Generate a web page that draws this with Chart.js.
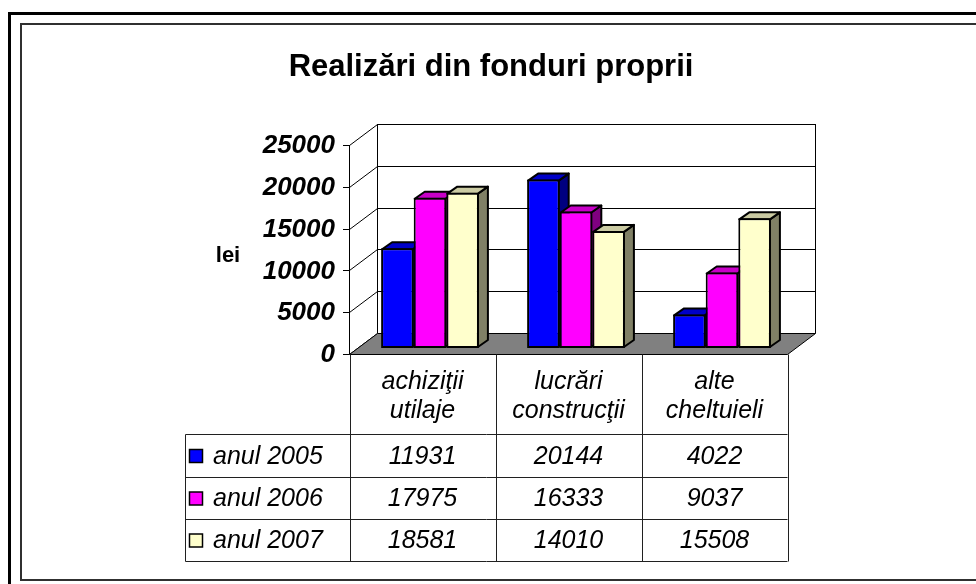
<!DOCTYPE html>
<html>
<head>
<meta charset="utf-8">
<script src="https://cdn.jsdelivr.net/npm/chart.js@4/dist/chart.umd.min.js"></script>
<style>
  html, body { margin: 0; padding: 0; background: #fff; }
  canvas { display: block; }
</style>
</head>
<body>
<canvas id="chart" width="976" height="584"></canvas>
<script>
const chartTitle = 'Realizări din fonduri proprii';
const axisTitle = 'lei';
const categories = [['achiziţii', 'utilaje'], ['lucrări', 'construcţii'], ['alte', 'cheltuieli']];
const seriesNames = ['anul 2005', 'anul 2006', 'anul 2007'];
const values2005 = [11931, 20144, 4022];
const values2006 = [17975, 16333, 9037];
const values2007 = [18581, 14010, 15508];
const yTicks = [0, 5000, 10000, 15000, 20000, 25000];

const frontColors = ['#0000ff', '#ff00ff', '#ffffcc'];
const topColors = ['#0000c8', '#c800c8', '#cbcba3'];
const sideColors = ['#000080', '#800080', '#808066'];

// offsets of the front edge / back wall relative to the plane of the bar faces
const FRONT = { dx: -8, dy: 6 };
const BACK = { dx: 20, dy: -15 };
const DEPTH = { dx: 10, dy: -7 };

const FONT = '"Liberation Sans", Arial, sans-serif';

function poly(ctx, pts, fill) {
    ctx.beginPath();
    ctx.moveTo(pts[0][0], pts[0][1]);
    for (let i = 1; i < pts.length; i++) ctx.lineTo(pts[i][0], pts[i][1]);
    ctx.closePath();
    if (fill) {
        ctx.fillStyle = fill;
        ctx.fill();
    }
    ctx.stroke();
}

function line(ctx, x1, y1, x2, y2) {
    ctx.beginPath();
    ctx.moveTo(x1, y1);
    ctx.lineTo(x2, y2);
    ctx.stroke();
}

const fake3d = {
    id: 'fake3d',
    beforeDraw(chart) {
        const ctx = chart.ctx;
        ctx.save();
        // frames
        ctx.strokeStyle = '#000';
        ctx.lineWidth = 3;
        ctx.strokeRect(9.5, 13.5, 1000, 600);
        ctx.strokeStyle = '#303030';
        ctx.lineWidth = 2;
        ctx.strokeRect(21, 24, 1000, 556);

        ctx.fillStyle = '#000';
        ctx.textAlign = 'center';
        ctx.textBaseline = 'middle';
        ctx.font = 'bold 31px ' + FONT;
        ctx.fillText(chartTitle, 491, 67);
        ctx.font = 'bold 22px ' + FONT;
        ctx.fillText(axisTitle, 228, 256);
        ctx.restore();
    },
    beforeDatasetsDraw(chart) {
        const ctx = chart.ctx;
        const { left, right, top, bottom } = chart.chartArea;
        const yScale = chart.scales.y;
        ctx.save();
        ctx.strokeStyle = '#000';
        ctx.lineWidth = 1;

        // back wall + grid
        const bl = left + BACK.dx + 0.5, br = right + BACK.dx + 0.5;
        ctx.fillStyle = '#fff';
        ctx.fillRect(bl, top + BACK.dy, br - bl, bottom - top);
        yTicks.forEach(v => {
            const py = Math.round(yScale.getPixelForValue(v)) + 0.5;
            line(ctx, bl, py + BACK.dy, br, py + BACK.dy);
            // side wall diagonals
            line(ctx, left + FRONT.dx + 0.5, py + FRONT.dy, bl, py + BACK.dy);
            // tick marks
            line(ctx, left + FRONT.dx - 6, py + FRONT.dy, left + FRONT.dx + 0.5, py + FRONT.dy);
        });
        line(ctx, bl, top + BACK.dy, bl, bottom + BACK.dy);
        line(ctx, br, top + BACK.dy, br, bottom + BACK.dy);
        line(ctx, left + FRONT.dx + 0.5, top + FRONT.dy, left + FRONT.dx + 0.5, bottom + FRONT.dy);

        // floor
        const b = Math.round(yScale.getPixelForValue(0)) + 0.5;
        poly(ctx, [
            [left + FRONT.dx + 0.5, b + FRONT.dy],
            [right + FRONT.dx + 0.5, b + FRONT.dy],
            [br, b + BACK.dy],
            [bl, b + BACK.dy]
        ], '#808080');

        // y tick labels
        ctx.fillStyle = '#000';
        ctx.font = 'italic bold 26px ' + FONT;
        ctx.textAlign = 'right';
        ctx.textBaseline = 'middle';
        yTicks.forEach(v => {
            ctx.fillText(String(v), left + FRONT.dx - 14, yScale.getPixelForValue(v) + FRONT.dy + 1);
        });

        // bars: side, top, then the front face drawn by the bar element
        ctx.lineWidth = 2;
        ctx.lineJoin = 'round';
        chart.data.datasets.forEach((ds, i) => {
            const meta = chart.getDatasetMeta(i);
            meta.data.forEach(bar => {
                const p = bar.getProps(['x', 'y', 'base', 'width'], true);
                const l = p.x - p.width / 2, r = p.x + p.width / 2 - 1;
                poly(ctx, [
                    [r, p.y + 1], [r + DEPTH.dx, p.y + 1 + DEPTH.dy],
                    [r + DEPTH.dx, p.base - 1 + DEPTH.dy], [r, p.base - 1]
                ], sideColors[i]);
                poly(ctx, [
                    [l + 1, p.y + 1], [l + 1 + DEPTH.dx, p.y + 1 + DEPTH.dy],
                    [r + DEPTH.dx, p.y + 1 + DEPTH.dy], [r, p.y + 1]
                ], topColors[i]);
                bar.draw(ctx, chart.chartArea);
            });
        });
        ctx.restore();
        return false;
    },
    afterDraw(chart) {
        const ctx = chart.ctx;
        const xScale = chart.scales.x;
        const catW = (xScale.right - xScale.left) / categories.length;
        const x0 = xScale.left + FRONT.dx + 0.5;
        const rows = [434.5, 477.5, 519.5, 561.5];
        const tableLeft = 185.5;
        const headTop = chart.chartArea.bottom + FRONT.dy + 0.5;

        ctx.save();
        ctx.strokeStyle = '#202020';
        ctx.lineWidth = 1;
        rows.forEach(ry => line(ctx, tableLeft, ry, x0 + catW * categories.length, ry));
        line(ctx, tableLeft, rows[0], tableLeft, rows[rows.length - 1]);
        for (let c = 0; c <= categories.length; c++) {
            const cx = Math.round(x0 + c * catW) + 0.5;
            line(ctx, cx, headTop, cx, rows[rows.length - 1]);
        }

        ctx.fillStyle = '#000';
        ctx.textAlign = 'center';
        ctx.textBaseline = 'middle';
        ctx.font = 'italic 25px ' + FONT;
        categories.forEach((lines, c) => {
            const cx = x0 + (c + 0.5) * catW;
            lines.forEach((t, k) => ctx.fillText(t, cx, 382 + k * 29));
        });

        const seriesValues = [values2005, values2006, values2007];
        seriesNames.forEach((name, s) => {
            const cy = (rows[s] + rows[s + 1]) / 2;
            ctx.fillStyle = frontColors[s];
            ctx.fillRect(189.5, cy - 6.5, 13, 13);
            ctx.strokeStyle = '#000';
            ctx.lineWidth = 1.5;
            ctx.strokeRect(189.5, cy - 6.5, 13, 13);
            ctx.fillStyle = '#000';
            ctx.textAlign = 'left';
            ctx.fillText(name, 213, cy + 1);
            ctx.textAlign = 'center';
            seriesValues[s].forEach((v, c) => {
                ctx.fillText(String(v), x0 + (c + 0.5) * catW, cy + 1);
            });
        });
        ctx.restore();
    }
};

new Chart(document.getElementById('chart'), {
    type: 'bar',
    data: {
        labels: categories,
        datasets: [
            { label: seriesNames[0], data: values2005, backgroundColor: frontColors[0] },
            { label: seriesNames[1], data: values2006, backgroundColor: frontColors[1] },
            { label: seriesNames[2], data: values2007, backgroundColor: frontColors[2] }
        ]
    },
    options: {
        responsive: false,
        devicePixelRatio: 1,
        animation: false,
        layout: { padding: { left: 357, right: 181, top: 139, bottom: 236 } },
        datasets: {
            bar: {
                borderColor: '#000',
                borderWidth: 2,
                borderSkipped: false,
                categoryPercentage: 0.67,
                barPercentage: 1.0
            }
        },
        plugins: {
            legend: { display: false },
            tooltip: { enabled: false },
            title: { display: false }
        },
        scales: {
            x: { display: false },
            y: { display: false, min: 0, max: 25000 }
        }
    },
    plugins: [fake3d]
});
</script>
</body>
</html>
